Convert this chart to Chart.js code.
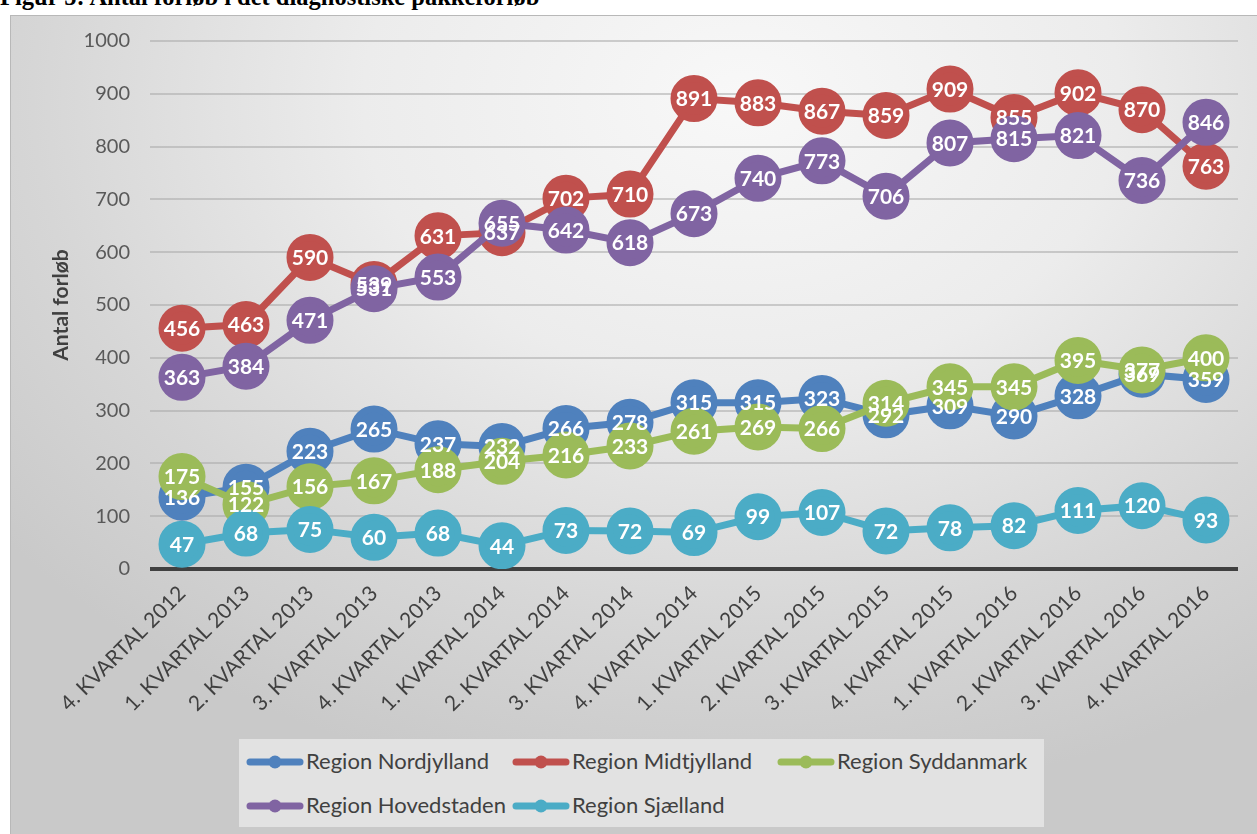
<!DOCTYPE html>
<html>
<head>
<meta charset="utf-8">
<script src="https://cdn.jsdelivr.net/npm/chart.js@4.4.1/dist/chart.umd.min.js"></script>
<style>
  html, body { margin: 0; padding: 0; width: 1257px; height: 834px; overflow: hidden; background: #fff; }
  #title {
    position: absolute; left: 0px; top: -15px;
    font: bold 24.5px "Liberation Serif", "Times New Roman", serif; line-height: 24px; color: #000;
    white-space: nowrap;
  }
  #box {
    position: absolute; left: 10px; top: 15px; width: 1260px; height: 830px;
    border: 1px solid #b8b8b8; overflow: hidden;
    background: radial-gradient(ellipse 75% 85% at 58% 10%, #f8f8f8 0%, #ececec 40%, #d6d6d6 75%, #c9c9c9 100%);
  }
  #wrap { position: absolute; left: 0; top: -7px; width: 1254px; height: 826px; }
  #legend {
    position: absolute; left: 228px; top: 723px; width: 805px; height: 88px;
    background: #e2e2e2;
    font: 22px Lato, "Open Sans", sans-serif; color: #404040;
  }
  .item { position: absolute; height: 26px; line-height: 26px; white-space: nowrap; }
  .item canvas { vertical-align: middle; margin-right: 2px; position: relative; top: -1px; }
</style>
</head>
<body>
<div id="title">Figur 5: Antal forløb i det diagnostiske pakkeforløb</div>
<div id="box">
  <div id="wrap"><canvas id="myLineChart"></canvas></div>
  <div id="legend"></div>
</div>
<script>
const labels = ['4. KVARTAL 2012', '1. KVARTAL 2013', '2. KVARTAL 2013', '3. KVARTAL 2013', '4. KVARTAL 2013',
  '1. KVARTAL 2014', '2. KVARTAL 2014', '3. KVARTAL 2014', '4. KVARTAL 2014', '1. KVARTAL 2015',
  '2. KVARTAL 2015', '3. KVARTAL 2015', '4. KVARTAL 2015', '1. KVARTAL 2016', '2. KVARTAL 2016',
  '3. KVARTAL 2016', '4. KVARTAL 2016'];

const nordjylland = [136, 155, 223, 265, 237, 232, 266, 278, 315, 315, 323, 292, 309, 290, 328, 369, 359];
const midtjylland = [456, 463, 590, 539, 631, 637, 702, 710, 891, 883, 867, 859, 909, 855, 902, 870, 763];
const syddanmark = [175, 122, 156, 167, 188, 204, 216, 233, 261, 269, 266, 314, 345, 345, 395, 377, 400];
const hovedstaden = [363, 384, 471, 531, 553, 655, 642, 618, 673, 740, 773, 706, 807, 815, 821, 736, 846];
const sjaelland = [47, 68, 75, 60, 68, 44, 73, 72, 69, 99, 107, 72, 78, 82, 111, 120, 93];

const seriesNames = ['Region Nordjylland', 'Region Midtjylland', 'Region Syddanmark', 'Region Hovedstaden', 'Region Sjælland'];
const seriesData = [nordjylland, midtjylland, syddanmark, hovedstaden, sjaelland];
const colors = ['#4F81BD', '#C0504D', '#9BBB59', '#8064A2', '#4BACC6'];

const datasets = seriesNames.map((name, i) => ({
  label: name,
  data: seriesData[i],
  borderColor: colors[i],
  backgroundColor: colors[i],
  pointBackgroundColor: colors[i],
  pointBorderColor: colors[i],
  borderWidth: 7,
  pointRadius: 20,
  pointHoverRadius: 20,
  tension: 0,
  order: seriesNames.length - i
}));

// white value labels drawn on top of all series
const valueLabels = {
  id: 'valueLabels',
  afterDatasetsDraw(chart) {
    const ctx = chart.ctx;
    ctx.save();
    ctx.font = 'bold 21px Lato, "Open Sans", sans-serif';
    ctx.fillStyle = '#ffffff';
    ctx.textAlign = 'center';
    ctx.textBaseline = 'middle';
    chart.data.datasets.forEach((ds, i) => {
      const meta = chart.getDatasetMeta(i);
      meta.data.forEach((pt, j) => {
        ctx.fillText(ds.data[j], pt.x, pt.y + 1);
      });
    });
    ctx.restore();
  }
};

const config = {
  type: 'line',
  data: { labels: labels, datasets: datasets },
  plugins: [valueLabels],
  options: {
    responsive: true,
    maintainAspectRatio: false,
    animation: false,
    layout: { padding: { top: 18, right: 13, left: 0, bottom: 0 } },
    plugins: {
      legend: { display: false },
      tooltip: { enabled: false }
    },
    scales: {
      x: {
        offset: true,
        grid: { display: false, drawTicks: false },
        border: { display: false },
        ticks: {
          maxRotation: 45, minRotation: 45, autoSkip: false, padding: 12,
          color: '#404040',
          font: { family: 'Lato, "Open Sans", sans-serif', size: 21 }
        },
        afterFit(scale) { scale.height = 266; }
      },
      y: {
        min: 0, max: 1000,
        ticks: {
          stepSize: 100, padding: 20,
          color: '#595959',
          callback: v => String(v),
          font: { family: 'Lato, "Open Sans", sans-serif', size: 20 }
        },
        grid: {
          drawTicks: false,
          color: ctx => ctx.index === 0 ? '#404040' : 'rgba(170,170,170,0.55)',
          lineWidth: ctx => ctx.index === 0 ? 4 : 2
        },
        border: { display: false },
        title: {
          display: true,
          text: 'Antal forløb',
          color: '#404040',
          padding: { top: 38, bottom: 0 },
          font: { family: 'Lato, "Open Sans", sans-serif', size: 21, weight: 'bold' }
        },
        afterFit(scale) { scale.width = 139; }
      }
    }
  }
};

const ctx = document.getElementById('myLineChart').getContext('2d');
const myLineChart = new Chart(ctx, config);

// legend
const legendPos = [[7, 22], [273, 22], [538, 22], [7, 66], [273, 66]];
const legend = document.getElementById('legend');
seriesNames.forEach((name, i) => {
  const item = document.createElement('div');
  item.className = 'item';
  item.style.left = legendPos[i][0] + 'px';
  item.style.top = (legendPos[i][1] - 13) + 'px';
  const c = document.createElement('canvas');
  c.width = 58; c.height = 14;
  const g = c.getContext('2d');
  g.strokeStyle = colors[i];
  g.lineWidth = 7;
  g.lineCap = 'round';
  g.beginPath(); g.moveTo(4, 7); g.lineTo(54, 7); g.stroke();
  g.fillStyle = colors[i];
  g.beginPath(); g.arc(29, 7, 6.5, 0, Math.PI * 2); g.fill();
  item.appendChild(c);
  item.appendChild(document.createTextNode(name));
  legend.appendChild(item);
});
</script>
</body>
</html>
